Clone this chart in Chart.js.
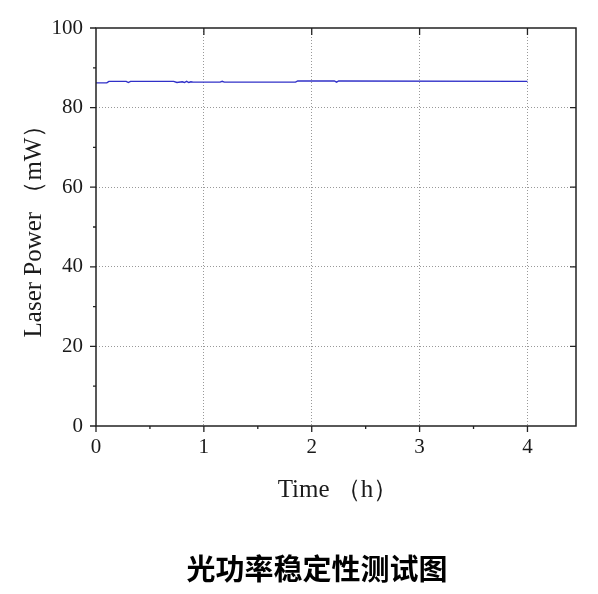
<!DOCTYPE html>
<html>
<head>
<meta charset="utf-8">
<script src="https://cdn.jsdelivr.net/npm/chart.js@4/dist/chart.umd.min.js"></script>
<style>
  html, body { margin: 0; padding: 0; background: #fff; }
  #c { display: block; }
</style>
</head>
<body>
<canvas id="c" width="598" height="594"></canvas>
<script>
// time in hours, laser power in mW
var timeH  = [0, 0.10, 0.12, 0.28, 0.30, 0.32, 0.72, 0.75, 0.80, 0.82, 0.84, 0.86, 0.88, 0.90, 1.15, 1.17, 1.19, 1.85, 1.87, 2.21, 2.23, 2.25, 4.0];
var powerMW = [86.2, 86.2, 86.6, 86.6, 86.3, 86.6, 86.6, 86.3, 86.5, 86.3, 86.6, 86.3, 86.5, 86.4, 86.4, 86.6, 86.4, 86.4, 86.7, 86.7, 86.4, 86.7, 86.6];
var xTicks = [0, 1, 2, 3, 4];
var yTicks = [0, 20, 40, 60, 80, 100];
var xTitle = 'Time （h）';
var yTitle = 'Laser Power （mW）';
var chartTitle = '光功率稳定性测试图';

var points = [];
for (var i = 0; i < timeH.length; i++) {
  points.push({x: timeH[i], y: powerMW[i]});
}

var serif = '"Liberation Serif", "Times New Roman", serif';

var frame = {
  id: 'frame',
  afterDraw: function(chart) {
    var ctx = chart.ctx, a = chart.chartArea;
    var xs = chart.scales.x, ys = chart.scales.y;
    ctx.save();
    ctx.strokeStyle = '#222';
    ctx.lineWidth = 1.5;
    ctx.strokeRect(a.left, a.top, a.right - a.left, a.bottom - a.top);
    ctx.lineWidth = 1.3;
    ctx.beginPath();
    // left axis, outward
    for (var v = 0; v <= 100; v += 10) {
      var py = ys.getPixelForValue(v);
      var len = (v % 20 === 0) ? 6 : 3;
      ctx.moveTo(a.left, py); ctx.lineTo(a.left - len, py);
    }
    // right axis, inward
    for (var v = 20; v <= 80; v += 20) {
      var py = ys.getPixelForValue(v);
      ctx.moveTo(a.right, py); ctx.lineTo(a.right - 6, py);
    }
    // bottom axis, outward
    for (var t = 0; t <= 4.0001; t += 0.5) {
      var px = xs.getPixelForValue(t);
      var len = (Math.abs(t - Math.round(t)) < 0.01) ? 6 : 3;
      ctx.moveTo(px, a.bottom); ctx.lineTo(px, a.bottom + len);
    }
    // top axis, inward
    for (var t = 1; t <= 4; t++) {
      var px = xs.getPixelForValue(t);
      ctx.moveTo(px, a.top); ctx.lineTo(px, a.top + 7);
    }
    ctx.stroke();

    ctx.fillStyle = '#1a1a1a';
    ctx.textAlign = 'center';
    ctx.textBaseline = 'middle';
    ctx.font = '25px ' + serif;
    ctx.fillText(xTitle, 338, 490);
    ctx.save();
    ctx.translate(34, 225);
    ctx.rotate(-Math.PI / 2);
    ctx.fillText(yTitle, 0, 0);
    ctx.restore();

    ctx.fillStyle = '#000';
    ctx.font = 'bold 29px "Noto Sans CJK SC", sans-serif';
    ctx.fillText(chartTitle, 317, 569);
    ctx.restore();
  }
};

new Chart(document.getElementById('c'), {
  type: 'line',
  data: {
    datasets: [{
      data: points,
      borderColor: '#3030c8',
      borderWidth: 1.4,
      pointRadius: 0,
      tension: 0,
      fill: false
    }]
  },
  options: {
    responsive: false,
    animation: false,
    layout: { padding: { left: 0, top: 28, right: 22, bottom: 0 } },
    plugins: { legend: { display: false }, tooltip: { enabled: false } },
    scales: {
      x: {
        type: 'linear',
        min: 0,
        max: 4.45,
        afterFit: function(s) { s.height = 168; },
        afterBuildTicks: function(s) { s.ticks = xTicks.map(function(v) { return {value: v}; }); },
        ticks: { color: '#1a1a1a', font: { family: serif, size: 21 }, padding: 9, maxRotation: 0 },
        grid: {
          drawTicks: false,
          color: function(c) { return c.tick && c.tick.value === 0 ? 'rgba(0,0,0,0)' : '#999'; },
          lineWidth: 1
        },
        border: { display: false, dash: [1, 2] }
      },
      y: {
        min: 0,
        max: 100,
        afterFit: function(s) { s.width = 96; },
        afterBuildTicks: function(s) { s.ticks = yTicks.map(function(v) { return {value: v}; }); },
        ticks: { color: '#1a1a1a', font: { family: serif, size: 21 }, padding: 13 },
        grid: {
          drawTicks: false,
          color: function(c) { return c.tick && (c.tick.value === 0 || c.tick.value === 100) ? 'rgba(0,0,0,0)' : '#999'; },
          lineWidth: 1
        },
        border: { display: false, dash: [1, 2] }
      }
    }
  },
  plugins: [frame]
});
</script>
</body>
</html>
